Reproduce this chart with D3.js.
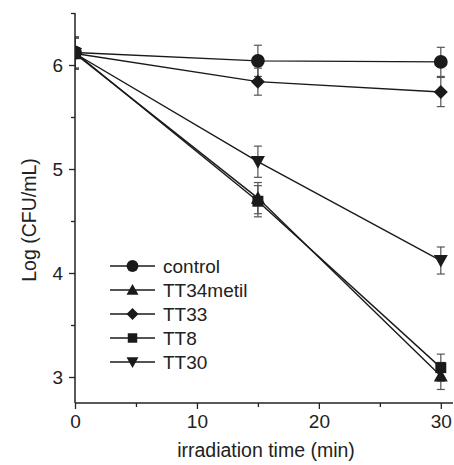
<!DOCTYPE html>
<html>
<head>
<meta charset="utf-8">
<script src="https://cdn.jsdelivr.net/npm/d3@7"></script>
<style>
  body { margin: 0; background: #fff; }
  text { font-family: "Liberation Sans", Arial, sans-serif; fill: #222; }
</style>
</head>
<body>
<div id="chart"></div>
<script>
const times = [0, 15, 30];
const seriesNames = ["control", "TT34metil", "TT33", "TT8", "TT30"];
const control = [6.12, 6.04, 6.03];
const tt34metil = [6.11, 4.72, 3.01];
const tt33 = [6.11, 5.84, 5.74];
const tt8 = [6.12, 4.69, 3.09];
const tt30 = [6.11, 5.07, 4.12];
const controlErr = [0.15, 0.15, 0.14];
const tt34metilErr = [0.15, 0.15, 0.13];
const tt33Err = [0.15, 0.13, 0.14];
const tt8Err = [0.15, 0.15, 0.13];
const tt30Err = [0.15, 0.15, 0.13];
const xTicks = [0, 10, 20, 30];
const yTicks = [3, 4, 5, 6];

const width = 454;
const height = 465;
const margin = { top: 13, right: 1, bottom: 62, left: 75 };

const series = [
  { name: seriesNames[0], values: control, err: controlErr, shape: d3.symbolCircle, size: 150 },
  { name: seriesNames[1], values: tt34metil, err: tt34metilErr, shape: "triUp", size: 14 },
  { name: seriesNames[2], values: tt33, err: tt33Err, shape: "diamond", size: 14 },
  { name: seriesNames[3], values: tt8, err: tt8Err, shape: d3.symbolSquare, size: 120 },
  { name: seriesNames[4], values: tt30, err: tt30Err, shape: "triDown", size: 14 }
];

const svg = d3.select("#chart")
  .append("svg")
  .attr("width", width)
  .attr("height", height);

const x = d3.scaleLinear().domain([0, 31]).range([margin.left, width - margin.right]);
const y = d3.scaleLinear().domain([2.75, 6.5]).range([height - margin.bottom, margin.top]);

// custom marker paths
function markerPath(shape, s) {
  const h = s / 2;
  if (shape === "diamond") return `M0,${-h}L${h},0L0,${h}L${-h},0Z`;
  if (shape === "triUp") return `M0,${-h}L${h},${h * 0.8}L${-h},${h * 0.8}Z`;
  if (shape === "triDown") return `M0,${h}L${h},${-h * 0.8}L${-h},${-h * 0.8}Z`;
  return d3.symbol().type(shape).size(s)();
}

svg.append("defs").append("clipPath")
  .attr("id", "plot-clip")
  .append("rect")
  .attr("x", margin.left)
  .attr("y", 0)
  .attr("width", width - margin.left)
  .attr("height", height - margin.bottom);

const plot = svg.append("g").attr("clip-path", "url(#plot-clip)");

const line = d3.line()
  .x((d, i) => x(times[i]))
  .y(d => y(d));

series.forEach(s => {
  plot.append("path")
    .datum(s.values)
    .attr("d", line)
    .attr("fill", "none")
    .attr("stroke", "#1a1a1a")
    .attr("stroke-width", 1.4);
});

// error bars
series.forEach(s => {
  const g = plot.append("g").attr("stroke", "#555").attr("stroke-width", 1.2);
  s.values.forEach((v, i) => {
    const cx = x(times[i]);
    g.append("line").attr("x1", cx).attr("x2", cx).attr("y1", y(v - s.err[i])).attr("y2", y(v + s.err[i]));
    g.append("line").attr("x1", cx - 4).attr("x2", cx + 4).attr("y1", y(v + s.err[i])).attr("y2", y(v + s.err[i]));
    g.append("line").attr("x1", cx - 4).attr("x2", cx + 4).attr("y1", y(v - s.err[i])).attr("y2", y(v - s.err[i]));
  });
});

series.forEach(s => {
  plot.append("g").selectAll("path")
    .data(s.values)
    .join("path")
    .attr("d", markerPath(s.shape, s.size))
    .attr("transform", (d, i) => `translate(${x(times[i])},${y(d)})`)
    .attr("fill", "#1a1a1a");
});

// axes
const xAxis = svg.append("g")
  .attr("transform", `translate(0,${height - margin.bottom})`)
  .call(d3.axisBottom(x).tickValues(xTicks).tickFormat(d3.format("d")).tickSize(6).tickPadding(6));
svg.append("g")
  .attr("transform", `translate(0,${height - margin.bottom})`)
  .call(d3.axisBottom(x).tickValues([5, 15, 25]).tickSize(4).tickFormat(""))
  .select(".domain").remove();

const yAxis = svg.append("g")
  .attr("transform", `translate(${margin.left},0)`)
  .call(d3.axisLeft(y).tickValues(yTicks).tickFormat(d3.format("d")).tickSize(6).tickPadding(6));
svg.append("g")
  .attr("transform", `translate(${margin.left},0)`)
  .call(d3.axisLeft(y).tickValues([3.5, 4.5, 5.5, 6.5]).tickSize(4).tickFormat(""))
  .select(".domain").remove();

svg.selectAll(".domain").attr("stroke", "#222").attr("stroke-width", 1.5);
svg.selectAll(".tick line").attr("stroke", "#222").attr("stroke-width", 1.3);
xAxis.selectAll(".domain").attr("d", `M${margin.left},0H${width - margin.right}`);
yAxis.selectAll(".domain").attr("d", `M0,${margin.top}V${height - margin.bottom}`);
svg.selectAll(".tick text").attr("font-size", 19).style("font-family", "'Liberation Sans', Arial, sans-serif").attr("fill", "#222");

// axis titles
svg.append("text")
  .attr("x", 266)
  .attr("y", 457)
  .attr("text-anchor", "middle")
  .attr("font-size", 19.5)
  .text("irradiation time (min)");

svg.append("text")
  .attr("transform", `translate(36,220) rotate(-90)`)
  .attr("text-anchor", "middle")
  .attr("font-size", 19.5)
  .text("Log (CFU/mL)");

// legend
const legend = svg.append("g").attr("transform", "translate(110,266)");
series.forEach((s, i) => {
  const row = legend.append("g").attr("transform", `translate(0,${i * 24})`);
  row.append("line").attr("x1", 0).attr("x2", 45).attr("y1", 0).attr("y2", 0)
    .attr("stroke", "#1a1a1a").attr("stroke-width", 1.4);
  row.append("path")
    .attr("d", markerPath(s.shape, s.shape === d3.symbolCircle ? 110 : s.shape === d3.symbolSquare ? 90 : 12))
    .attr("transform", "translate(22.5,0)")
    .attr("fill", "#1a1a1a");
  row.append("text")
    .attr("x", 53)
    .attr("y", 7)
    .attr("font-size", 19)
    .text(s.name);
});
</script>
</body>
</html>
